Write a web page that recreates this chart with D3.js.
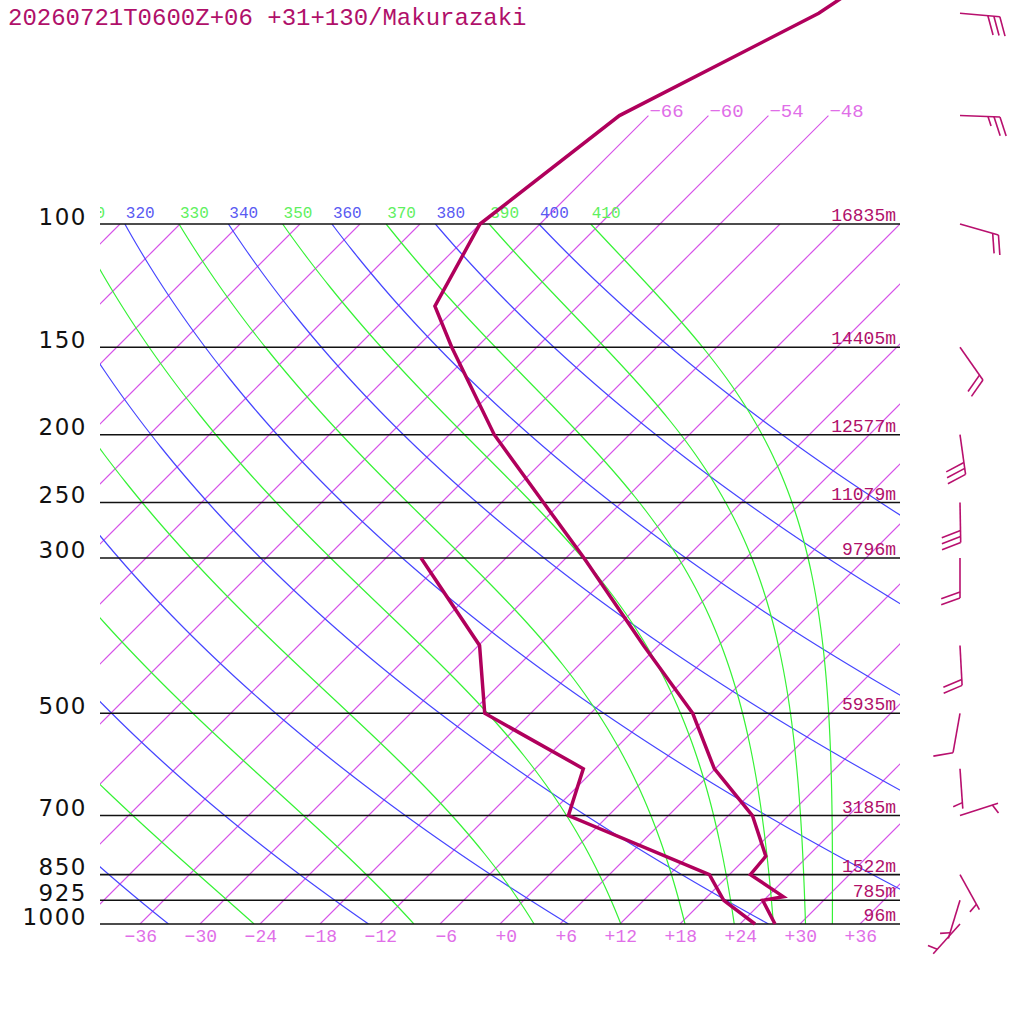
<!DOCTYPE html>
<meta charset="utf-8">

<script src="https://d3js.org/d3.v7.min.js"></script>

<style type="text/css">
    body { margin: 0; background: #fff; }
    text { font-family: "Liberation Mono", "DejaVu Sans Mono", monospace; }
    .plabel { font-family: "DejaVu Sans", sans-serif; font-size: 23px; letter-spacing: 1.5px; fill: #111; }
    .iso { fill: none; stroke: #d654e8; stroke-width: 1.1px; }
    .dry { fill: none; stroke: #4646ff; stroke-width: 1.2px; }
    .moist { fill: none; stroke: #36f236; stroke-width: 1.2px; }
</style>

<body>
</body>

<script>

// Sounding values

var titleText = "20260721T0600Z+06 +31+130/Makurazaki";

var pLevels = [100, 150, 200, 250, 300, 500, 700, 850, 925, 1000];
var heights = [16835, 14405, 12577, 11079, 9796, 5935, 3185, 1522, 785, 96];

var tempP = [30, 50, 70, 100, 131, 150, 200, 250, 300, 400, 500, 600, 700, 800, 850, 914, 925, 1000];
var tempT = [-51.5, -59.2, -68.9, -72.0, -68.3, -62.5, -49.5, -37.8, -28.2, -13.5, -1.8, 5.9, 14.4, 19.8, 20.1, 25.6, 23.9, 27.5];

var dewP = [300, 400, 500, 600, 700, 850, 925, 1000];
var dewT = [-44.5, -29.9, -22.6, -7.2, -4.0, 16.0, 20.0, 25.5];

var windP = [50, 70, 100, 150, 200, 250, 300, 400, 500, 600, 700, 850, 925, 1000];
var windDir = [95, 92, 106, 145, 172, 179, 180, 177, 190, 176, 72, 151, 197, 222];
var windSpd = [30, 25, 20, 20, 30, 30, 20, 20, 10, 5, 5, 5, 5, 5];

var tempTicks = [-36, -30, -24, -18, -12, -6, 0, 6, 12, 18, 24, 30, 36];
var isotherms = d3.range(-120, 43, 6);
var isoLabels = [-66, -60, -54, -48];
var thetaLines = [240, 260, 280, 300, 320, 340, 360, 380, 400];
var thetaELines = [250, 270, 290, 310, 330, 350, 370, 390, 410];

// Layout

var plot = {left: 100, right: 900, top: 224, bottom: 924};

var svg = d3.select("body").append("svg")
    .attr("width", 1024)
    .attr("height", 1024);

var yScale = d3.scaleLog()
    .domain([100, 1000])
    .range([plot.top, plot.bottom]);

var xScale = d3.scaleLinear()
    .domain([-40, 40])
    .range([plot.left, plot.right]);

// skewed x: isotherms lean 45 degrees
function skewX(t, p) {
    return xScale(t) + (yScale(1000) - yScale(p));
}

var lineGen = d3.line()
    .x(function(d) { return skewX(d.t, d.p); })
    .y(function(d) { return yScale(d.p); });

var defs = svg.append("defs");
defs.append("clipPath").attr("id", "clipMain")
    .append("rect")
    .attr("x", plot.left).attr("y", plot.top)
    .attr("width", plot.right - plot.left).attr("height", plot.bottom - plot.top);
defs.append("clipPath").attr("id", "clipUpper")
    .append("rect")
    .attr("x", plot.left).attr("y", 0)
    .attr("width", plot.right - plot.left).attr("height", plot.bottom);
defs.append("clipPath").attr("id", "clipLabels")
    .append("rect")
    .attr("x", plot.left).attr("y", 180)
    .attr("width", plot.right - plot.left).attr("height", 44);

// pressure samples for the curved lines
var pSamples = d3.range(0, 101).map(function(i) { return 1000 * Math.pow(0.1, i / 100); });

function dryT(theta, p) {
    return theta * Math.pow(p / 1000, 0.286) - 273.15;
}

function thetaE(tk, p) {
    var es = 6.112 * Math.exp(17.67 * (tk - 273.15) / (tk - 29.65));
    if (es > 0.6 * p) return 1e9;
    var r = 622 * es / (p - es);
    return tk * Math.pow(1000 / p, 0.2854 * (1 - 0.00028 * r)) *
        Math.exp((3.376 / tk - 0.00254) * r * (1 + 0.00081 * r));
}

function moistT(te, p) {
    var lo = 120, hi = 340;
    for (var i = 0; i < 60; i++) {
        var mid = (lo + hi) / 2;
        if (thetaE(mid, p) > te) hi = mid; else lo = mid;
    }
    return (lo + hi) / 2 - 273.15;
}

// Isotherms, split into short pieces

function isoPoints(t, pTop) {
    return pSamples.filter(function(p) { return p >= pTop - 0.01; })
        .concat(pTop < 100 ? [pTop] : [])
        .map(function(p) { return {p: p, t: t}; });
}

svg.append("g")
    .attr("clip-path", "url(#clipMain)")
    .selectAll("path")
    .data(isotherms.filter(function(t) { return isoLabels.indexOf(t) < 0; }))
    .enter().append("path")
    .attr("class", "iso")
    .attr("d", function(t) { return lineGen(isoPoints(t, 100)); });

svg.append("g")
    .attr("clip-path", "url(#clipUpper)")
    .selectAll("path")
    .data(isoLabels)
    .enter().append("path")
    .attr("class", "iso")
    .attr("d", function(t) { return lineGen(isoPoints(t, 70)); });

svg.append("g").selectAll("text")
    .data(isoLabels)
    .enter().append("text")
    .attr("x", function(t) { return skewX(t, 70) + 1; })
    .attr("y", yScale(70) + 1)
    .attr("font-size", 19)
    .attr("fill", "#e06ee8")
    .text(function(t) { return "\u2212" + Math.abs(t); });

// Dry adiabats (blue) and moist adiabats (green)

var adiabats = svg.append("g").attr("clip-path", "url(#clipMain)");

adiabats.selectAll(".dry")
    .data(thetaLines)
    .enter().append("path")
    .attr("class", "dry")
    .attr("d", function(th) {
        return lineGen(pSamples.map(function(p) { return {p: p, t: dryT(th, p)}; }));
    });

adiabats.selectAll(".moist")
    .data(thetaELines)
    .enter().append("path")
    .attr("class", "moist")
    .attr("d", function(te) {
        return lineGen(pSamples.map(function(p) { return {p: p, t: moistT(te, p)}; }));
    });

// labels at the 100 hPa line, only where some of the text can be seen
var adLabels = svg.append("g").attr("clip-path", "url(#clipLabels)");

var dryLab = thetaLines.map(function(th) { return {v: th, x: skewX(dryT(th, 100), 100) + 1}; })
    .filter(function(d) { return d.x > 70; });
var moistLab = thetaELines.map(function(te) { return {v: te, x: skewX(moistT(te, 100), 100) + 1}; })
    .filter(function(d) { return d.x > 70; });

adLabels.selectAll(".dlab")
    .data(dryLab)
    .enter().append("text")
    .attr("x", function(d) { return d.x; })
    .attr("y", 218)
    .attr("font-size", 16)
    .attr("fill", "#5a5af2")
    .text(function(d) { return d.v; });

adLabels.selectAll(".mlab")
    .data(moistLab)
    .enter().append("text")
    .attr("x", function(d) { return d.x; })
    .attr("y", 218)
    .attr("font-size", 16)
    .attr("fill", "#5ef05e")
    .text(function(d) { return d.v; });

// Pressure levels

var levels = svg.append("g");

levels.selectAll("line")
    .data(pLevels)
    .enter().append("line")
    .attr("x1", plot.left)
    .attr("x2", plot.right)
    .attr("y1", function(p) { return yScale(p); })
    .attr("y2", function(p) { return yScale(p); })
    .style("stroke", "#111")
    .style("stroke-width", "1.6px");

levels.selectAll(".plabel")
    .data(pLevels)
    .enter().append("text")
    .attr("class", "plabel")
    .attr("x", 87)
    .attr("y", function(p) { return yScale(p) + 0.5; })
    .attr("text-anchor", "end")
    .text(function(p) { return p; });

levels.selectAll(".hlabel")
    .data(pLevels)
    .enter().append("text")
    .attr("x", 896)
    .attr("y", function(p) { return yScale(p) - 3; })
    .attr("text-anchor", "end")
    .attr("font-size", 18)
    .attr("fill", "#b0106a")
    .text(function(p, i) { return heights[i] + "m"; });

// Temperature ticks along the bottom

svg.append("g").selectAll("text")
    .data(tempTicks)
    .enter().append("text")
    .attr("x", function(t) { return xScale(t) + 17; })
    .attr("y", 942)
    .attr("text-anchor", "end")
    .attr("font-size", 18)
    .attr("fill", "#e06ee8")
    .text(function(t) { return (t < 0 ? "\u2212" : "+") + Math.abs(t); });

// Temperature and dew point profiles

var profColor = "#b0005c";

var tempData = tempP.map(function(p, i) { return {p: p, t: tempT[i]}; });
var dewData = dewP.map(function(p, i) { return {p: p, t: dewT[i]}; });

svg.append("path")
    .attr("d", lineGen(dewData))
    .style("fill", "none")
    .style("stroke", profColor)
    .style("stroke-width", "3.5px");

svg.append("path")
    .attr("d", lineGen(tempData))
    .style("fill", "none")
    .style("stroke", profColor)
    .style("stroke-width", "3.5px");

// Wind barbs

var barbX = 960, staffLen = 40, barbLen = 20, barbGap = 6;
var barbs = svg.append("g");

function barbLine(x1, y1, x2, y2) {
    barbs.append("line")
        .attr("x1", x1).attr("y1", y1)
        .attr("x2", x2).attr("y2", y2)
        .style("stroke", "#b8106e")
        .style("stroke-width", "1.6px");
}

windP.forEach(function(p, i) {
    var y0 = yScale(p);
    var a = (windDir[i] - 90) * Math.PI / 180;
    var ux = Math.cos(a), uy = Math.sin(a);
    var ex = barbX + staffLen * ux, ey = y0 + staffLen * uy;
    barbLine(barbX, y0, ex, ey);
    var b = a + 70 * Math.PI / 180;
    var bx = Math.cos(b), by = Math.sin(b);
    var full = Math.floor(windSpd[i] / 10);
    var half = (windSpd[i] % 10) >= 5;
    var ticks = [];
    for (var k = 0; k < full; k++) ticks.push(barbLen);
    if (half) ticks.push(barbLen / 2);
    var start = (full === 0) ? 1 : 0;
    ticks.forEach(function(len, k) {
        var sx = ex - (start + k) * barbGap * ux, sy = ey - (start + k) * barbGap * uy;
        barbLine(sx, sy, sx + len * bx, sy + len * by);
    });
});

// Title

svg.append("text")
    .attr("x", 8)
    .attr("y", 25)
    .attr("font-size", 24)
    .attr("fill", "#b0106a")
    .text(titleText);

</script>
